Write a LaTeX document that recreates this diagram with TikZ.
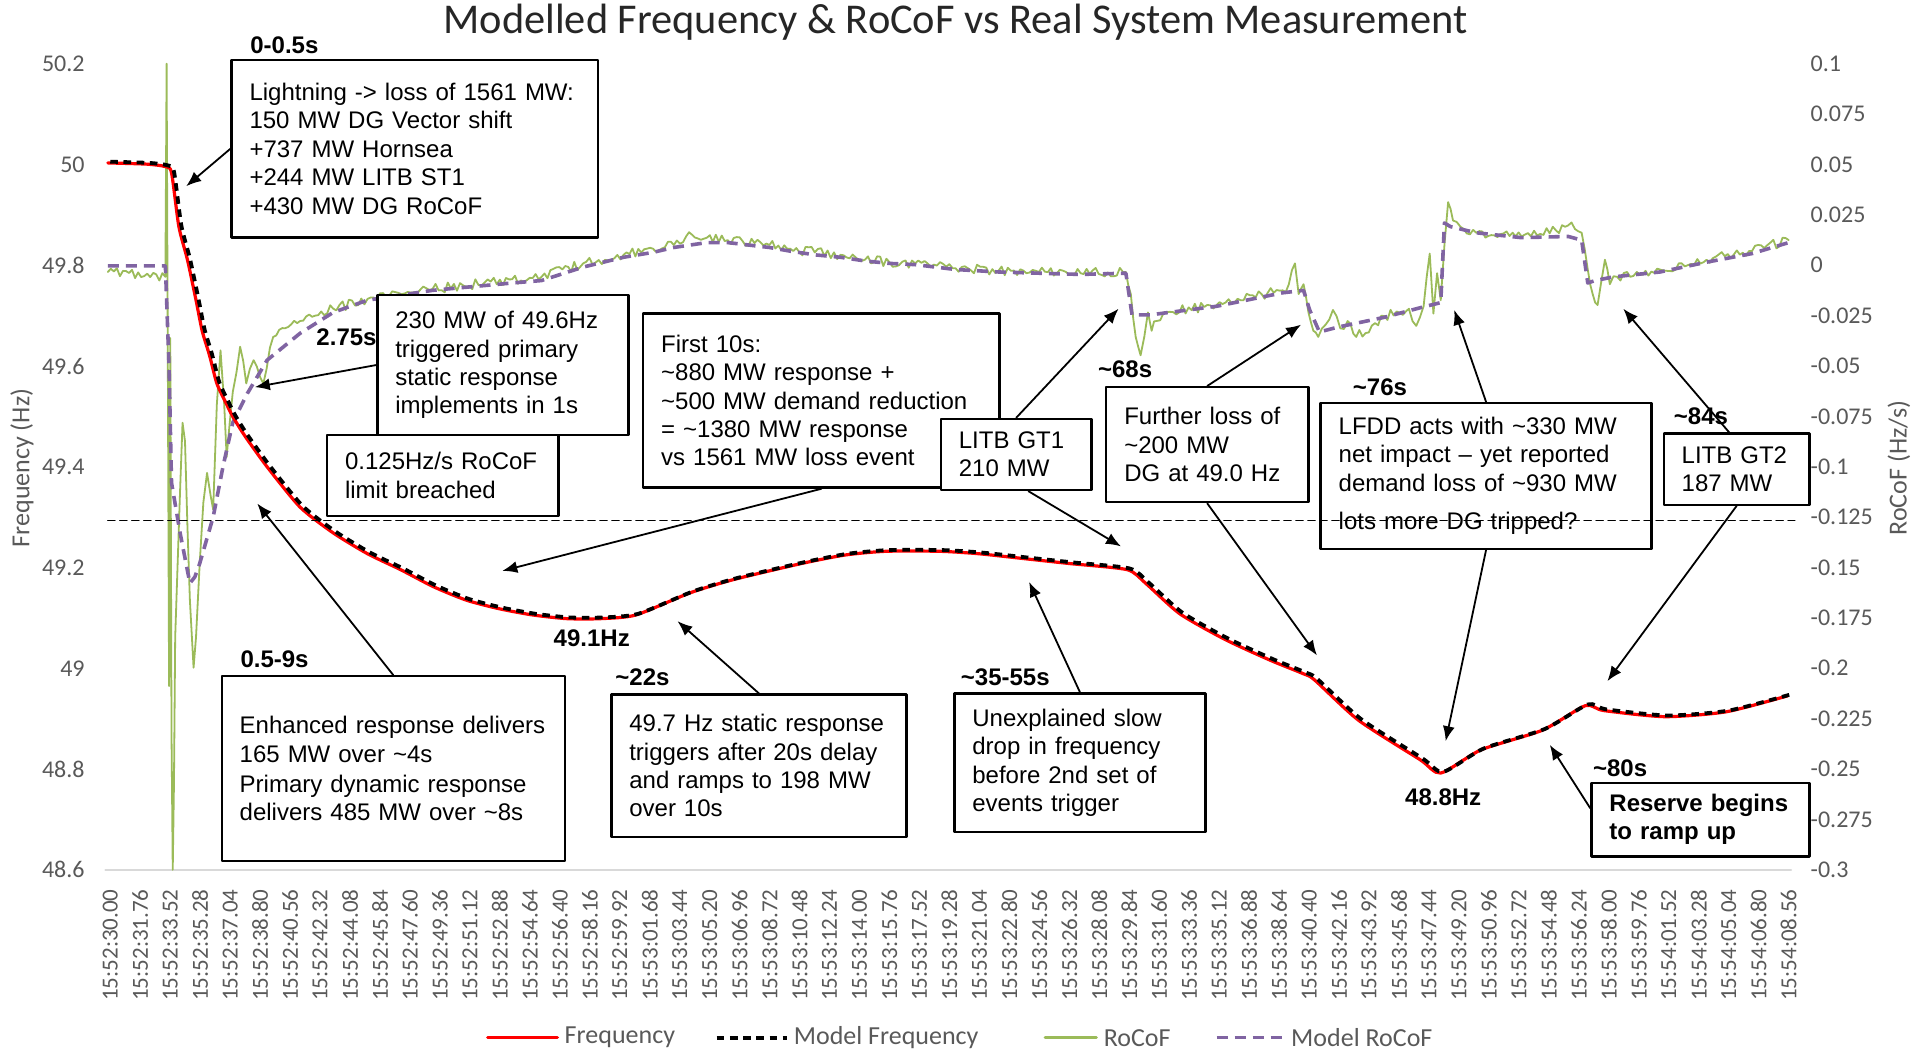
\documentclass[tikz,border=0pt]{standalone}
\usepackage{fontspec}
\setmainfont{Liberation Sans}
\newfontfamily\calibri{Carlito}
\usetikzlibrary{arrows.meta,calc}
\tikzset{>={Latex[length=7.5pt,width=6pt]}}
\definecolor{freqred}{HTML}{FF0000}
\definecolor{rocofgreen}{HTML}{9BBB59}
\definecolor{modelpurple}{HTML}{8064A2}
\definecolor{axisgrey}{HTML}{595959}
\definecolor{gridgrey}{HTML}{D9D9D9}
\newcommand{\appr}{\textasciitilde}

\begin{document}
\begin{tikzpicture}[
	x=0.6125pt, y=-0.6125pt,
	line cap=round, line join=round,
	freq/.style={freqred, line width=1.6pt},
	modelfreq/.style={black, line width=1.9pt, dash pattern=on 3.8pt off 2.8pt, line cap=butt},
	rocof/.style={rocofgreen, line width=0.9pt},
	modelrocof/.style={modelpurple, line width=1.8pt, dash pattern=on 5.5pt off 3.5pt, line cap=butt},
	ticklabel/.style={font=\calibri\fontsize{12}{12}\selectfont, text=axisgrey, inner sep=1pt},
	timelabel/.style={font=\calibri\fontsize{11.5}{12}\selectfont, text=axisgrey, rotate=90, anchor=east, inner sep=1pt},
	axistitle/.style={font=\calibri\fontsize{13}{13}\selectfont, text=axisgrey, rotate=90},
	legendtext/.style={font=\calibri\fontsize{13}{13}\selectfont, text=axisgrey, anchor=west, inner sep=1pt},
	note/.style 2 args={draw, fill=white, line width=1.2pt, align=left, inner xsep=9pt, inner ysep=0pt,
		anchor=north west, font=\fontsize{12}{14.2}\selectfont,
		minimum width=#1*0.6125pt, minimum height=#2*0.6125pt,
		/utils/exec={\pgfmathsetlengthmacro\notewidth{#1*0.6125pt-18pt}}, text width=\notewidth},
	tag/.style={font=\fontsize{12}{12}\selectfont\bfseries, inner sep=0pt},
	pointer/.style={->, line width=0.9pt},
	limit/.style={black, line width=0.7pt, dash pattern=on 3.6pt off 2.4pt}
]
	\useasboundingbox (0,0) rectangle (1568,858);

	% title
	\node[font=\calibri\fontsize{21.2}{21.2}\selectfont, text=black!85] (title) at (780,18)
		{Modelled Frequency \& RoCoF vs Real System Measurement};

	% axes
	\draw[gridgrey, line width=1pt] (86,710) -- (1462,710);
	\foreach \f [count=\i from 0] in {50.2,50,49.8,49.6,49.4,49.2,49,48.8,48.6}
		\node[ticklabel, anchor=east] (fy\i) at (71,{52+82.25*\i}) {\f};
	\foreach \r [count=\i from 0] in {0.1,0.075,0.05,0.025,0,-0.025,-0.05,-0.075,-0.1,-0.125,-0.15,-0.175,-0.2,-0.225,-0.25,-0.275,-0.3}
		\node[ticklabel, anchor=west] (ry\i) at (1476,{52+41.125*\i}) {\r};
	\foreach \k in {0,...,56}{
		\pgfmathtruncatemacro\ths{3000+176*\k}
		\pgfmathtruncatemacro\tmin{52+floor(\ths/6000)}
		\pgfmathtruncatemacro\tsec{floor(mod(\ths,6000)/100)}
		\pgfmathtruncatemacro\tcent{round(mod(\ths,100))}
		\node[timelabel] (tx\k) at ({90+24.4643*\k},724)
			{15:\tmin:\ifnum\tsec<10 0\fi\tsec.\ifnum\tcent<10 0\fi\tcent};
	}
	\node[axistitle] (ytl) at (18,382) {Frequency (Hz)};
	\node[axistitle] (ytr) at (1550,382) {RoCoF (Hz/s)};

	% measured rocof, noise added on a base line
	\pgfmathsetseed{4321}
	\def\greenpath{}
	\foreach \gx/\gy [remember=\gx as \lx (initially 88), remember=\gy as \ly (initially 222)] in {
		135/226, 136/52, 137/300, 138/560, 139/276, 140/600, 141/710, 142/640, 143/520, 145/460,
		147/400, 149/345, 151/360, 153/430, 155/490, 158/545, 160/520, 163/460, 166/410, 169/386,
		172/405, 174/416, 177/330, 180/286, 183/330, 185/373, 190/320, 196/283, 201/313, 207/294,
		215/313, 223/275, 245/262, 272/252, 300/244, 353/236, 418/228, 442/226, 476/215, 509/208,
		533/203, 550/200, 560/193, 577/194, 594/196, 628/200, 645/203, 665/206, 686/208, 706/212,
		726/214, 747/215, 780/219, 815/221, 848/222, 882/223, 919/222, 923/240, 927/275, 931/290,
		934/275, 937/255, 940/270, 944/262, 950/255, 993/249, 1047/237, 1052/232, 1057/215, 1060/240,
		1064/232, 1068/255, 1072/270, 1076/275, 1082/265, 1088/253, 1094/268, 1100/262, 1107/275, 1130/258,
		1150/252, 1156/266, 1162/250, 1167/207, 1170/256, 1173/223, 1176/245, 1179/200, 1182/165, 1186/180,
		1192/185, 1205/190, 1242/193, 1270/188, 1280/184, 1291/190, 1296/220, 1300/240, 1304/249, 1307/230,
		1310/212, 1314/232, 1320/226, 1336/222, 1355/220, 1393/212, 1430/205, 1460/196} {
		\pgfmathtruncatemacro\nn{max(1,round(abs(\gx-\lx)/2.5))}
		\foreach \k in {1,...,\nn} {
			\pgfmathsetmacro\px{\lx+(\gx-\lx)*\k/\nn}
			\pgfmathsetmacro\py{\ly+(\gy-\ly)*\k/\nn+4*rand*(\k<\nn)}
			\xdef\greenpath{\greenpath -- (\px,\py)}
		}
	}
	\draw[rocof] (88,222) \greenpath;

	% model rocof
	\draw[modelrocof] plot coordinates {
		(88,217) (135,217) (138,300) (140,394) (147,435) (155,476) (159,471) (163,460) (174,422) (182,381)
		(190,345) (202,321) (218,294) (245,272) (272,255) (300,245) (353,237) (418,231) (442,229) (476,218)
		(509,210) (533,206) (550,202) (577,198) (594,198) (628,202) (645,205) (665,208) (686,210) (706,213)
		(726,215) (747,216) (780,220) (815,222) (848,223) (882,224) (919,223) (924,257) (939,257) (993,250)
		(1047,239) (1064,237) (1069,253) (1077,271) (1092,267) (1130,259) (1160,251) (1176,247) (1179,182) (1184,185)
		(1205,190) (1242,194) (1280,193) (1291,196) (1296,231) (1302,229) (1317,226) (1336,224) (1355,222) (1393,214)
		(1430,207) (1460,198)};

	% frequency
	\def\freqpts{(88,133) (120,134) (135,136) (140,141) (146,185) (153,212) (160,245) (165,270) (171,290)
		(177,313) (184,328) (190,340) (200,356) (218,381) (245,414) (272,435) (300,452) (327,465) (354,479)
		(381,490) (408,497) (435,502) (463,505) (490,505) (519,502) (563,484) (599,473) (654,460) (690,453)
		(723,450) (767,450) (799,452) (836,456) (873,460) (920,465) (935,476) (963,501) (1000,522) (1037,539)
		(1064,550) (1073,555) (1109,588) (1159,620) (1176,631) (1209,612) (1259,596) (1294,576) (1309,580)
		(1359,585) (1409,581) (1459,568)}
	\draw[freq] plot[smooth, tension=0.4] coordinates {\freqpts};
	\draw[modelfreq, shift={(2,-1)}] plot[smooth, tension=0.4] coordinates {\freqpts};

	% notes
	\node[note={299}{145}] (b1) at (188,48) {Lightning -> loss of 1561 MW:\\150 MW DG Vector shift\\+737 MW Hornsea\\+244 MW LITB ST1\\+430 MW DG RoCoF};
	\node[note={205}{114}] (b2) at (307,240) {230 MW of 49.6Hz\\triggered primary\\static response\\implements in 1s};
	\node[note={189}{66}] (b3) at (266,354) {0.125Hz/s RoCoF\\limit breached};
	\node[note={291}{142}] (b4) at (524,255) {First 10s:\\\appr880 MW response +\\\appr500 MW demand reduction\\= \appr1380 MW response\\vs 1561 MW loss event};
	\node[note={123}{58}] (b5) at (767,341) {LITB GT1\\210 MW};
	\node[note={165}{94}] (b6) at (902,315) {Further loss of\\\appr200 MW\\DG at 49.0 Hz};
	\node[note={270}{119}] (b7) at (1077,328) {LFDD acts with \appr330 MW\\net impact -- yet reported\\demand loss of \appr930 MW\\[5pt]lots more DG tripped?};
	\node[note={119}{58}] (b8) at (1357,353) {LITB GT2\\187 MW};
	\node[note={280}{151}] (b9) at (180,551) {Enhanced response delivers\\165 MW over \appr4s\\[1pt]Primary dynamic response\\delivers 485 MW over \appr8s};
	\node[note={241}{116}] (b10) at (498,566) {49.7 Hz static response\\triggers after 20s delay\\and ramps to 198 MW\\over 10s};
	\node[note={205}{113}] (b11) at (778,565) {Unexplained slow\\drop in frequency\\before 2nd set of\\events trigger};
	\node[note={178}{60}, font=\fontsize{12}{14.2}\selectfont\bfseries] (b12) at (1298,638) {Reserve begins\\to ramp up};

	% time tags
	\node[tag, anchor=west] (t1) at (204,37) {0-0.5s};
	\node[tag, anchor=west] (t2) at (258,275) {2.75s};
	\node[tag, anchor=west] (t3) at (896,301) {\appr68s};
	\node[tag, anchor=west] (t4) at (1104,316) {\appr76s};
	\node[tag, anchor=west] (t5) at (1366,340) {\appr84s};
	\node[tag, anchor=west] (t6) at (196,538) {0.5-9s};
	\node[tag, anchor=west] (t7) at (502,553) {\appr22s};
	\node[tag, anchor=west] (t8) at (784,553) {\appr35-55s};
	\node[tag, anchor=west] (t9) at (1300,627) {\appr80s};
	\node[tag] (fmin1) at (483,521) {49.1Hz};
	\node[tag] (fmin2) at (1178,651) {48.8Hz};

	% pointers
	\coordinate (h1) at (152,152);
	\coordinate (h2) at (208,316);
	\coordinate (h3) at (410,466);
	\coordinate (h4) at (913,252);
	\coordinate (h5) at (915,446);
	\coordinate (h6) at (1062,265);
	\coordinate (h7) at (1075,535);
	\coordinate (h8) at (1187,253);
	\coordinate (h9) at (1180,605);
	\coordinate (h10) at (1325,252);
	\coordinate (h11) at (1312,556);
	\coordinate (h12) at (210,411);
	\coordinate (h13) at (553,507);
	\coordinate (h14) at (840,475);
	\coordinate (h15) at (1265,608);
	\draw[pointer] (b1.west) -- (h1);
	\draw[pointer] (b2.west) -- (h2);
	\draw[pointer] (b4.south) -- (h3);
	\draw[pointer] (b5.north) -- (h4);
	\draw[pointer] ($(b5.south)+(10,0)$) -- (h5);
	\draw[pointer] (b6.north) -- (h6);
	\draw[pointer] (b6.south) -- (h7);
	\draw[pointer] (b7.north) -- (h8);
	\draw[pointer] (b7.south) -- (h9);
	\draw[pointer] ($(b8.north)+(-6,0)$) -- (h10);
	\draw[pointer] (b8.south) -- (h11);
	\draw[pointer] (b9.north) -- (h12);
	\draw[pointer] (b10.north) -- (h13);
	\draw[pointer] (b11.north) -- (h14);
	\draw[pointer] ($(b12.north west)!0.35!(b12.south west)$) -- (h15);

	% rocof limit
	\draw[limit] (88,425) -- (1465,425);

	% legend
	\draw[freq] (398,847) -- (455,847);
	\node[legendtext] (lg1) at (459,847) {Frequency};
	\draw[modelfreq] (585,847) -- (642,847);
	\node[legendtext] (lg2) at (646,847) {Model Frequency};
	\draw[rocof, line width=1.4pt] (853,847) -- (895,847);
	\node[legendtext] (lg3) at (899,847) {RoCoF};
	\draw[modelrocof] (993,847) -- (1048,847);
	\node[legendtext] (lg4) at (1052,847) {Model RoCoF};
\end{tikzpicture}
\end{document}
